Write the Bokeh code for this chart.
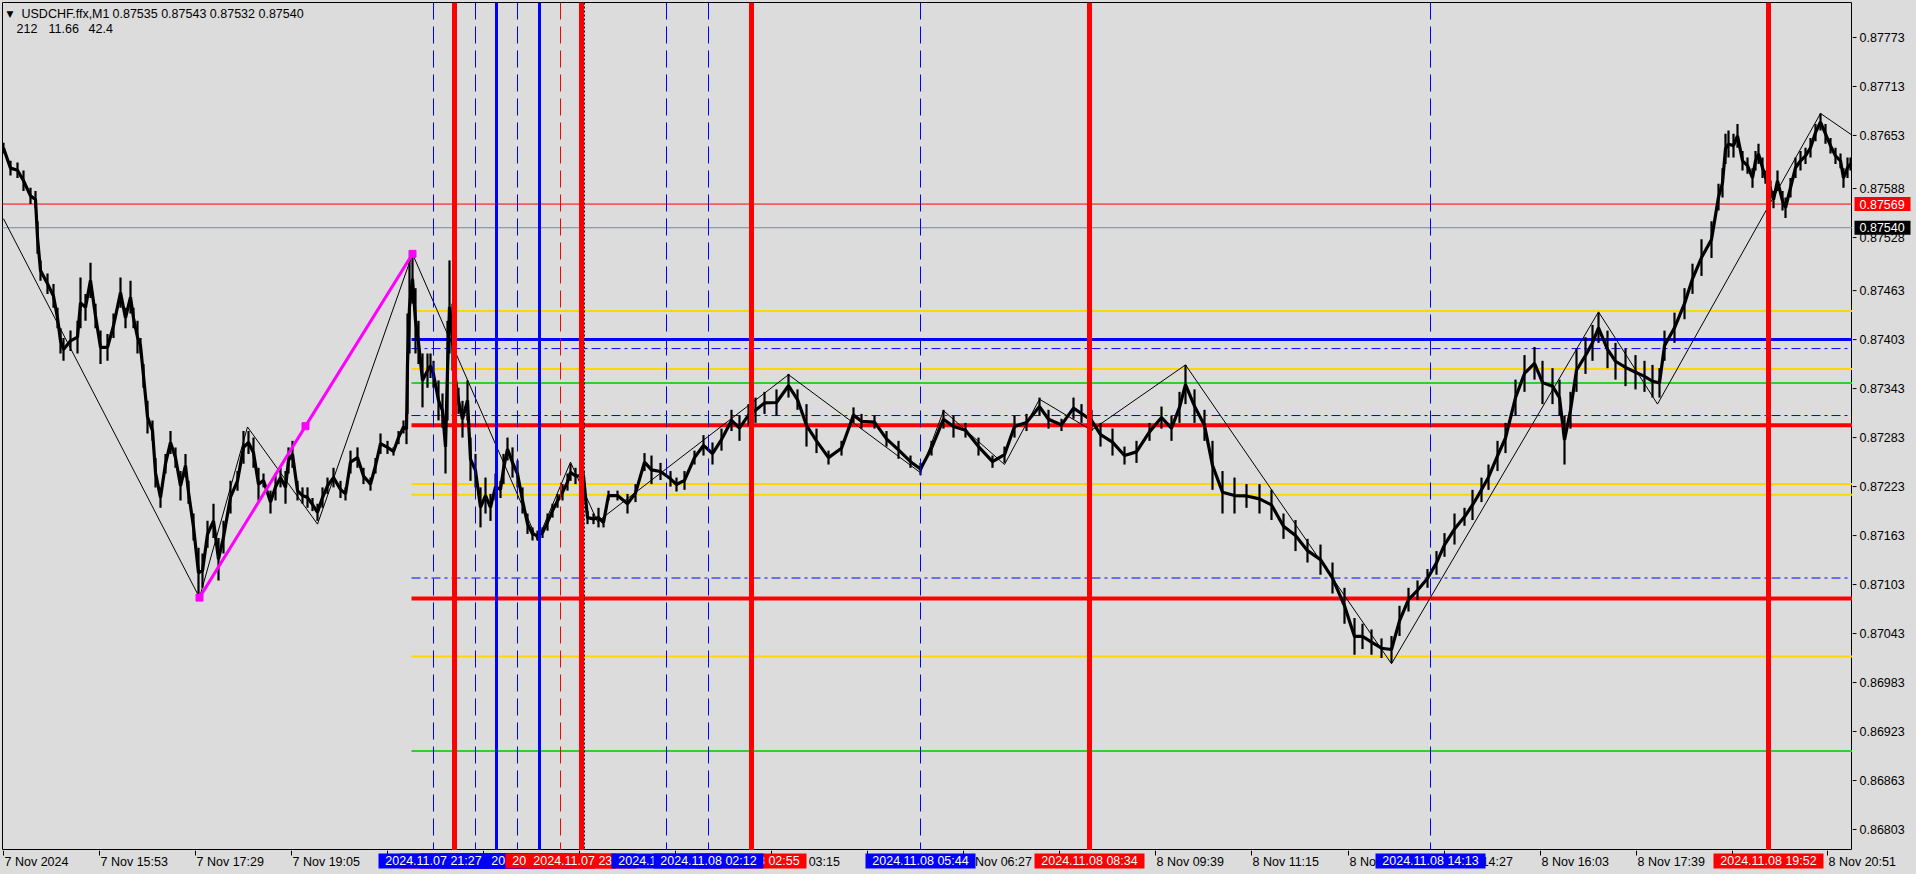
import numpy as np
from bokeh.plotting import figure
from bokeh.layouts import column, row
from bokeh.models import Label, Range1d, Span
from bokeh.core.properties import value
from bokeh.embed import file_html
from bokeh.resources import INLINE

# ---------------- data (x = M1 bar index, prices in points of 1e-5) ----------------
bar_x = [3, 10, 17, 23, 30, 35, 37, 40, 47, 53, 57, 60, 63, 70, 77, 80, 85, 90, 95, 100, 107, 113, 120, 125, 130, 133,
         137, 140, 143, 147, 152, 155, 160, 165, 170, 175, 180, 185, 188, 193, 198, 202, 207, 213, 218, 223, 230, 237,
         243, 248, 253, 258, 263, 270, 275, 280, 285, 288, 292, 297, 302, 307, 312, 317, 322, 327, 333, 340, 345, 350,
         357, 363, 370, 375, 380, 387, 393, 398, 403, 406, 407, 409, 412, 415, 418, 422, 427, 430, 433, 438, 442, 445,
         447, 449, 452, 455, 458, 462, 467, 470, 475, 480, 485, 490, 495, 500, 503, 507, 512, 517, 522, 527, 532, 537,
         542, 547, 552, 557, 562, 567, 570, 575, 580, 583, 587, 593, 598, 603, 608, 617, 627, 635, 644, 651, 660, 670,
         676, 684, 694, 703, 712, 721, 731, 739, 748, 755, 764, 776, 788, 797, 806, 816, 828, 841, 853, 861, 874, 886,
         898, 910, 920, 931, 943, 953, 965, 978, 992, 1004, 1014, 1026, 1039, 1048, 1061, 1073, 1081, 1091, 1100, 1112,
         1124, 1136, 1149, 1161, 1171, 1179, 1185, 1194, 1204, 1212, 1222, 1234, 1246, 1259, 1271, 1283, 1295, 1307,
         1320, 1332, 1344, 1354, 1362, 1371, 1381, 1391, 1399, 1408, 1417, 1427, 1436, 1444, 1454, 1464, 1472, 1481,
         1488, 1497, 1505, 1515, 1524, 1534, 1542, 1552, 1559, 1564, 1570, 1576, 1585, 1592, 1598, 1607, 1615, 1625,
         1635, 1644, 1652, 1659, 1664, 1674, 1684, 1692, 1701, 1711, 1718, 1722, 1725, 1728, 1733, 1737, 1742, 1747,
         1752, 1755, 1758, 1762, 1765, 1770, 1773, 1777, 1782, 1785, 1790, 1795, 1800, 1805, 1810, 1815, 1820, 1825,
         1830, 1835, 1840, 1843, 1847, 1850]
bar_high = [87644, 87622, 87620, 87610, 87589, 87585, 87548, 87500, 87484, 87471, 87442, 87417, 87405, 87414, 87426,
            87479, 87459, 87497, 87447, 87414, 87410, 87435, 87479, 87442, 87475, 87442, 87426, 87405, 87373, 87328,
            87304, 87258, 87222, 87263, 87291, 87271, 87242, 87263, 87230, 87190, 87148, 87141, 87181, 87202, 87160,
            87181, 87230, 87242, 87291, 87291, 87283, 87246, 87239, 87218, 87239, 87246, 87242, 87271, 87279, 87230,
            87222, 87222, 87209, 87202, 87222, 87234, 87246, 87230, 87222, 87267, 87271, 87246, 87234, 87258, 87288,
            87279, 87271, 87291, 87304, 87312, 87435, 87500, 87508, 87466, 87426, 87386, 87386, 87386, 87377, 87353,
            87337, 87304, 87426, 87500, 87447, 87405, 87344, 87328, 87353, 87283, 87263, 87222, 87234, 87214, 87239,
            87230, 87263, 87283, 87271, 87255, 87222, 87190, 87173, 87169, 87173, 87190, 87202, 87214, 87226, 87239,
            87251, 87246, 87242, 87242, 87193, 87190, 87197, 87185, 87218, 87218, 87214, 87226, 87264, 87261, 87252,
            87242, 87234, 87242, 87267, 87286, 87277, 87294, 87317, 87310, 87324, 87332, 87339, 87342, 87361, 87342,
            87324, 87294, 87267, 87279, 87320, 87312, 87310, 87291, 87279, 87261, 87252, 87279, 87317, 87310, 87301,
            87283, 87261, 87272, 87310, 87312, 87332, 87317, 87306, 87332, 87324, 87317, 87301, 87294, 87272, 87279,
            87301, 87321, 87310, 87339, 87372, 87342, 87317, 87279, 87242, 87234, 87226, 87226, 87219, 87190, 87182,
            87159, 87152, 87130, 87099, 87062, 87055, 87048, 87037, 87040, 87077, 87099, 87108, 87122, 87144, 87166,
            87190, 87197, 87219, 87234, 87250, 87279, 87301, 87354, 87384, 87394, 87377, 87368, 87354, 87310, 87339,
            87392, 87406, 87421, 87436, 87414, 87399, 87392, 87384, 87377, 87372, 87368, 87414, 87436, 87466, 87496,
            87526, 87548, 87594, 87613, 87655, 87659, 87655, 87667, 87634, 87626, 87613, 87634, 87643, 87626, 87610,
            87598, 87585, 87610, 87585, 87577, 87601, 87626, 87634, 87638, 87650, 87667, 87680, 87667, 87650, 87638,
            87631, 87613, 87626, 87626]
bar_low = [87631, 87604, 87601, 87585, 87569, 87564, 87508, 87475, 87459, 87442, 87417, 87386, 87377, 87389, 87386,
           87417, 87426, 87454, 87417, 87373, 87377, 87405, 87442, 87417, 87435, 87417, 87386, 87386, 87344, 87288,
           87279, 87222, 87197, 87239, 87263, 87246, 87206, 87234, 87202, 87157, 87087, 87099, 87148, 87160, 87108,
           87141, 87190, 87218, 87251, 87263, 87246, 87206, 87222, 87190, 87206, 87222, 87202, 87239, 87246, 87206,
           87202, 87197, 87193, 87181, 87197, 87214, 87222, 87209, 87206, 87239, 87246, 87226, 87218, 87239, 87263,
           87263, 87261, 87275, 87288, 87275, 87312, 87386, 87447, 87386, 87373, 87320, 87344, 87356, 87344, 87304,
           87295, 87239, 87304, 87386, 87365, 87304, 87312, 87283, 87304, 87230, 87222, 87173, 87190, 87181, 87206,
           87209, 87226, 87255, 87234, 87222, 87190, 87165, 87157, 87157, 87160, 87169, 87185, 87197, 87206, 87218,
           87230, 87226, 87230, 87230, 87177, 87177, 87173, 87173, 87206, 87206, 87190, 87204, 87242, 87226, 87231,
           87223, 87217, 87219, 87250, 87261, 87250, 87267, 87291, 87279, 87297, 87301, 87312, 87310, 87332, 87317,
           87272, 87264, 87250, 87261, 87301, 87294, 87294, 87272, 87257, 87246, 87237, 87261, 87294, 87283, 87283,
           87261, 87246, 87252, 87283, 87291, 87310, 87294, 87291, 87306, 87301, 87291, 87272, 87261, 87250, 87252,
           87279, 87294, 87279, 87301, 87324, 87301, 87279, 87219, 87190, 87190, 87197, 87190, 87182, 87159, 87144,
           87130, 87115, 87092, 87055, 87017, 87024, 87017, 87013, 87007, 87040, 87070, 87084, 87099, 87115, 87137,
           87152, 87175, 87182, 87204, 87219, 87242, 87264, 87310, 87339, 87354, 87324, 87324, 87310, 87250, 87294,
           87339, 87361, 87377, 87399, 87368, 87354, 87346, 87342, 87339, 87332, 87332, 87377, 87399, 87428, 87459,
           87481, 87503, 87561, 87577, 87618, 87626, 87626, 87638, 87610, 87606, 87589, 87610, 87618, 87601, 87594,
           87577, 87564, 87585, 87561, 87552, 87577, 87601, 87610, 87618, 87626, 87646, 87659, 87643, 87631, 87618,
           87613, 87589, 87601, 87610]

zigzag_x = [3, 199, 247, 317, 412, 537, 570, 597, 788, 920, 943, 1004, 1039, 1091, 1185, 1391, 1598, 1657, 1820, 1852]
zigzag_p = [87551, 87087, 87296, 87177, 87508, 87157, 87253, 87180, 87360, 87240, 87316, 87250, 87330, 87292, 87372,
            87006, 87437, 87324, 87680, 87653]

fib_x = [199, 305, 412]
fib_p = [87087, 87297, 87508]

level_start = 411
level_p = [87438, 87367, 87226, 87213, 87015, 87403, 87392, 87310, 87111, 87350, 86899, 87298, 87086]
level_kind = ["gold", "gold", "gold", "gold", "gold", "blue", "bluedd", "bluedd", "bluedd", "green", "green", "red",
              "red"]

ask_price = 87569
bid_price = 87540

vline_x = [433, 454, 475, 496, 517, 539, 560, 581, 666, 708, 751, 920, 1089, 1430, 1768]
vline_kind = ["bdash", "red", "bdash", "blue", "bdash", "blue", "rdash", "red", "bdash", "bdash", "red", "bdash",
              "red", "bdash", "red"]
vline_label = ["2024.11.07 21:27", "2024.11.07 21:48", "2024.11.07 22:09", "2024.11.07 22:30", "2024.11.07 22:51",
               "2024.11.07 23:13", "2024.11.07 23:34", "2024.11.07 23:55", "2024.11.08 01:30", "2024.11.08 02:12",
               "2024.11.08 02:55", "2024.11.08 05:44", "2024.11.08 08:34", "2024.11.08 14:13", "2024.11.08 19:52"]
label_order = [1, 2, 3, 4, 0, 5, 6, 7, 10, 8, 9, 11, 12, 13, 14]
day_sep_x = 584

tick_x = [3, 99, 195, 291, 387, 483, 579, 675, 771, 867, 963, 1059, 1155, 1251, 1348, 1444, 1540, 1636, 1732, 1827]
tick_lbl = ["7 Nov 2024", "7 Nov 15:53", "7 Nov 17:29", "7 Nov 19:05", "7 Nov 20:41", "7 Nov 22:17", "7 Nov 23:53",
            "8 Nov 01:39", "8 Nov 03:15", "8 Nov 04:51", "8 Nov 06:27", "8 Nov 08:03", "8 Nov 09:39", "8 Nov 11:15",
            "8 Nov 12:51", "8 Nov 14:27", "8 Nov 16:03", "8 Nov 17:39", "8 Nov 19:15", "8 Nov 20:51"]
ytick_vals = [0.87773, 0.87713, 0.87653, 0.87588, 0.87528, 0.87463, 0.87403, 0.87343, 0.87283, 0.87223, 0.87163,
              0.87103, 0.87043, 0.86983, 0.86923, 0.86863, 0.86803]

# ---------------- styling ----------------
BG = "#DCDCDC"
FONT = "Liberation Sans"
FS = "12.5px"
COL = {"gold": ("#FFD700", 2, "solid"), "blue": ("#0000FF", 3, "solid"), "bluedd": ("#0000FF", 1, "9 4 3 4"),
       "green": ("#32CD32", 2, "solid"), "red": ("#FF0000", 4, "solid")}
VCOL = {"bdash": ("#0000FF", 1, "17 7"), "red": ("#FF0000", 5, "solid"), "blue": ("#0000FF", 3, "solid"),
        "rdash": ("#FF0000", 1, "17 7")}

pts = 1e-5
hi = np.array(bar_high) * pts
lo = np.array(bar_low) * pts
mid = (hi + lo) / 2

FRAME_W, FRAME_H = 1850, 848
Y_TOP, Y_BOT = 0.8781587, 0.8677728
px_price = (Y_TOP - Y_BOT) / FRAME_H


def base(fig):
    fig.background_fill_color = BG
    fig.border_fill_color = BG
    fig.grid.visible = False
    return fig


# ---- main chart ----
p = base(figure(frame_width=FRAME_W, frame_height=FRAME_H, x_range=Range1d(2, 2 + FRAME_W),
                y_range=Range1d(Y_BOT, Y_TOP), output_backend="svg", toolbar_location=None,
                x_axis_location=None, y_axis_location=None,
                min_border_left=2, min_border_top=2, min_border_right=0, min_border_bottom=0))
p.outline_line_color = "black"
p.outline_line_width = 1

for pr, c in ((ask_price, "#FF0000"), (bid_price, "#778899")):
    p.segment(x0=0, x1=1900, y0=pr * pts, y1=pr * pts, line_color=c, line_width=1)

for lp, lk in zip(level_p, level_kind):
    c, w, d = COL[lk]
    p.segment(x0=level_start, x1=1900, y0=lp * pts, y1=lp * pts, line_color=c, line_width=w, line_dash=d)

# price bars
p.line(bar_x, mid, line_color="black", line_width=3.2, line_join="bevel")
p.segment(x0=bar_x, x1=bar_x, y0=lo, y1=hi, line_color="black", line_width=2.2)

# zigzag
p.line(zigzag_x, np.array(zigzag_p) * pts, line_color="black", line_width=1)

# magenta swing
p.line(fib_x, np.array(fib_p) * pts, line_color="#FF00FF", line_width=3)
p.scatter(fib_x, np.array(fib_p) * pts, marker="square", size=7, fill_color="#FF00FF", line_color="#FF00FF")

# vertical lines
for vx, vk in zip(vline_x, vline_kind):
    c, w, d = VCOL[vk]
    p.add_layout(Span(location=vx, dimension="height", line_color=c, line_width=w, line_dash=d))
p.add_layout(Span(location=day_sep_x, dimension="height", line_color="black", line_width=1, line_dash="2 2"))

# header text
p.add_layout(Label(x=4, y=837, x_units="screen", y_units="screen", text="\u25BC", text_font="DejaVu Sans",
                   text_font_size="9px", text_baseline="middle", text_color="black"))
hdr = [(19, 837, "USDCHF.ffx,M1"), (110, 837, "0.87535 0.87543 0.87532 0.87540"),
       (14, 822, "212"), (46, 822, "11.66"), (86, 822, "42.4")]
for hx, hy, ht in hdr:
    p.add_layout(Label(x=hx, y=hy, x_units="screen", y_units="screen", text=ht, text_font=FONT, text_font_size=FS,
                       text_baseline="middle", text_color="black"))

# ---- right price scale ----
AX_W = 62
r = base(figure(frame_width=AX_W, frame_height=FRAME_H, x_range=Range1d(0, AX_W), y_range=p.y_range,
                output_backend="svg", toolbar_location=None, x_axis_location=None, y_axis_location=None,
                min_border_left=0, min_border_top=2, min_border_right=0, min_border_bottom=0))
r.outline_line_color = None
r.segment(x0=0, x1=4, y0=ytick_vals, y1=ytick_vals, line_color="black", line_width=1)
r.text(x=7, y=ytick_vals, text=["%.5f" % v for v in ytick_vals], text_align="left", text_baseline="middle",
       text_font=value(FONT), text_font_size=FS, text_color="black")
for pr, bgc in ((ask_price, "#FF0000"), (bid_price, "black")):
    r.quad(left=2, right=58, bottom=pr * pts - 7 * px_price, top=pr * pts + 7 * px_price,
           fill_color=bgc, line_color=None)
    r.text(x=7, y=pr * pts, text=["%.5f" % (pr * pts)], text_align="left", text_baseline="middle",
           text_font=value(FONT), text_font_size=FS, text_color="white")

# ---- bottom time scale ----
AX_H = 22
b = base(figure(frame_width=FRAME_W + AX_W, frame_height=AX_H, x_range=Range1d(2, 2 + FRAME_W + AX_W),
                y_range=Range1d(AX_H, 0), output_backend="svg", toolbar_location=None,
                x_axis_location=None, y_axis_location=None,
                min_border_left=2, min_border_top=0, min_border_right=0, min_border_bottom=0))
b.outline_line_color = None
b.segment(x0=tick_x, x1=tick_x, y0=0, y1=5, line_color="black", line_width=1)
b.text(x=[t + 1 for t in tick_x], y=11, text=tick_lbl, text_align="left", text_baseline="middle",
       text_font=value(FONT), text_font_size=FS, text_color="black")
for i in label_order:
    c = VCOL[vline_kind[i]][0]
    b.quad(left=vline_x[i] - 55, right=vline_x[i] + 55, top=3, bottom=18, fill_color=c, line_color=None)
    b.text(x=vline_x[i], y=10.5, text=[vline_label[i]], text_align="center", text_baseline="middle",
           text_font=value(FONT), text_font_size=FS, text_color="white")

layout = column(row(p, r), b)
try:
    from bokeh.models import GlobalInlineStyleSheet
    layout.stylesheets = [GlobalInlineStyleSheet(css="body{background:#DCDCDC;}")]
except Exception:
    pass

open("out.html", "w").write(file_html(layout, INLINE))
